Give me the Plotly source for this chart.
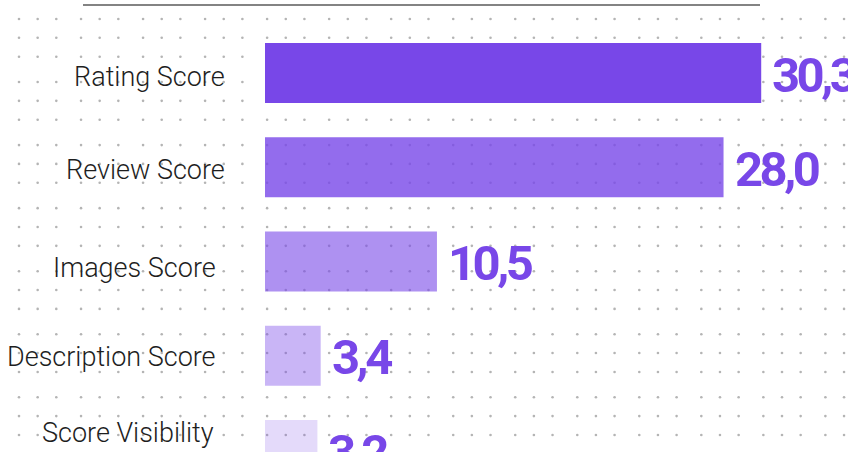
import numpy as np
import plotly.graph_objects as go

# ---- data ----
categories = ["Rating Score", "Review Score", "Images Score", "Description Score", "Score Visibility"]
values = [30.3, 28.0, 10.5, 3.4, 3.2]

# ---- style ----
W, H = 848, 452
BASE = (120, 71, 232)
opacities = [1.0, 0.8, 0.6, 0.4, 0.2]
bar_colors = [f"rgba({BASE[0]},{BASE[1]},{BASE[2]},{a})" for a in opacities]
value_color = f"rgb({BASE[0]},{BASE[1]},{BASE[2]})"
# per-label nudges (pixels) for the category captions
label_dx = [-38, -38, -47, -47, -49]
label_dy = [-3.5, -3, -6, -1, 17]

# decorative background dot grid (pixel space)
px_period, py_period = 62.03, 63.05
offs_x = [0, 18.65, 37.3]
offs_y = [0, 18.8, 37.7]
gx = [19 + k * px_period + o for k in range(15) for o in offs_x]
gy = [19 + k * py_period + o for k in range(8) for o in offs_y]
gx = [v for v in gx if v < W]
gy = [v for v in gy if v < H]
GX, GY = np.meshgrid(gx, gy)

fig = go.Figure()

fig.add_trace(go.Scatter(
    x=GX.ravel(), y=GY.ravel(), mode="markers",
    marker=dict(symbol="circle", size=2.6, color="#b4b4b4", line=dict(width=0)),
    hoverinfo="skip", showlegend=False, xaxis="x", yaxis="y",
))

fig.add_trace(go.Bar(
    x=values, y=categories, orientation="h",
    marker=dict(color=bar_colors, line=dict(width=0)),
    width=0.637, showlegend=False, xaxis="x2", yaxis="y2",
))

def fmt(v):
    return f"{v:.1f}".replace(".", ",")

annotations = []
for c, v in zip(categories, values):
    annotations.append(dict(
        x=v, y=c, xref="x2", yref="y2", xanchor="left", yanchor="middle",
        xshift=9, yshift=-2, showarrow=False,
        text=f"<span style='letter-spacing:-3.5px'><b>{fmt(v)}</b></span>",
        font=dict(family="Roboto", size=49, color=value_color),
    ))
for c, dx, dy in zip(categories, label_dx, label_dy):
    annotations.append(dict(
        x=0, y=c, xref="x2", yref="y2", xanchor="right", yanchor="middle",
        xshift=dx, yshift=dy, showarrow=False, text=c,
        font=dict(family="Roboto", size=27, color="#1e1e1e", weight=300),
    ))

x0_frac = 265 / W
fig.update_layout(
    width=W, height=H,
    margin=dict(l=0, r=0, t=0, b=0, pad=0, autoexpand=False),
    paper_bgcolor="white", plot_bgcolor="rgba(0,0,0,0)",
    xaxis=dict(domain=[0, 1], range=[0, W], visible=False, fixedrange=True, automargin=False),
    yaxis=dict(domain=[0, 1], range=[H, 0], visible=False, fixedrange=True, automargin=False),
    xaxis2=dict(domain=[x0_frac, 1], range=[0, 35.6], visible=False, anchor="y2", automargin=False),
    yaxis2=dict(domain=[0, 1], anchor="x2", type="category", automargin=False,
                range=[4.021, -0.7745], showgrid=False, zeroline=False,
                showline=False, ticks="", showticklabels=False),
    annotations=annotations,
    shapes=[dict(type="line", xref="x", yref="y", x0=83, x1=760, y0=5, y1=5,
                 line=dict(color="#5a5a5a", width=1.6))],
    showlegend=False,
)

fig.write_html("out.html", config={"displayModeBar": False},
               post_script="document.body.style.margin='0px';document.body.style.padding='0px';")
